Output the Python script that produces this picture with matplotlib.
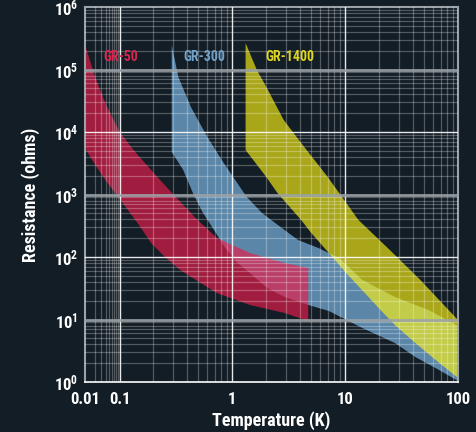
import numpy as np
import matplotlib
matplotlib.use('Agg')
import matplotlib.pyplot as plt
from matplotlib import font_manager
from matplotlib.ticker import FixedLocator, FixedFormatter, LogLocator, NullFormatter

# GR-50 band (temperature K, resistance ohms)
gr50_upper_t = [0.01, 0.0197, 0.0388, 0.0935, 0.119, 0.145, 0.233, 0.367, 0.492, 0.73, 1.43, 2.91, 4.71]
gr50_upper_r = [2.47e5, 7.6e4, 2.91e4, 1.08e4, 6670, 4285, 1644, 679, 391, 201, 116, 80, 66.7]
gr50_lower_t = [0.01, 0.0161, 0.0388, 0.102, 0.151, 0.191, 0.247, 0.345, 0.492, 0.73, 1.43, 2.91, 4.71]
gr50_lower_r = [5550, 3560, 1710, 817, 313, 167, 104, 62, 41.3, 26.5, 17.1, 12.7, 9.46]

# GR-300 band
gr300_upper_t = [0.29, 0.332, 0.429, 0.6, 0.838, 1.34, 1.83, 2.67, 3.82, 5.8, 8.82, 14.2, 27.6, 54.8, 100]
gr300_upper_r = [2.47e5, 7.6e4, 2.51e4, 8320, 3190, 912, 506, 302, 187, 139, 96.4, 42.9, 22.9, 14.2, 7.87]
gr300_lower_t = [0.29, 0.367, 0.447, 0.543, 0.662, 0.855, 1.09, 1.43, 2.04, 2.91, 4.71, 7.16, 14.2, 27.6,
                 41.9, 63.4, 100]
gr300_lower_r = [4790, 2470, 1057, 525, 302, 145, 83.2, 55.5, 31.9, 22.9, 17.1, 13.7, 7.31, 4.21,
                 2.51, 1.67, 1.04]

# GR-1400 band
gr1400_upper_t = [1.31, 1.65, 2.0, 2.85, 4.07, 7.0, 13.1, 24.9, 46.4, 100]
gr1400_upper_r = [2.65e5, 9.8e4, 5.25e4, 1.56e4, 6670, 1905, 391, 129, 42.9, 9.8]
gr1400_lower_t = [1.31, 2.0, 2.51, 4.07, 5.01, 7.16, 10.2, 15.5, 20.2, 27.6, 41.9, 63.4, 100]
gr1400_lower_r = [5150, 1905, 1057, 391, 242, 116, 55.5, 24.7, 14.7, 8.17, 4.21, 2.25, 1.16]

x_ticks = [0.01, 0.1, 1, 10, 100]
x_tick_labels = ['0.01', '0.1', '1', '10', '100']
y_ticks = [1, 10, 100, 1e3, 1e4, 1e5, 1e6]

BG = '#121d26'
K = 0.306  # the 0.01-0.1 decade is squeezed on this axis


def pick_font(names):
    for name in names:
        try:
            path = font_manager.findfont(font_manager.FontProperties(family=name, weight='bold'),
                                         fallback_to_default=False)
            if path:
                return name
        except ValueError:
            pass
    return 'DejaVu Sans'


def fwd(x):
    lx = np.log10(np.clip(np.asarray(x, dtype=float), 1e-300, None))
    return np.where(lx >= -1, lx, -1 + K * (lx + 1))


def inv(u):
    u = np.asarray(u, dtype=float)
    return np.where(u >= -1, 10.0 ** u, 10.0 ** (-1 + (u + 1) / K))


def band(ax, ut, ur, lt, lr, color, alpha):
    xs = np.concatenate([ut, lt[::-1]])
    ys = np.concatenate([ur, lr[::-1]])
    ax.fill(xs, ys, color=color, alpha=alpha, lw=0, zorder=1)


font = pick_font(['Roboto Condensed', 'Liberation Sans Narrow', 'Lato', 'Liberation Sans'])
plt.rcParams['font.family'] = [font, 'DejaVu Sans']
plt.rcParams['mathtext.fontset'] = 'custom'
plt.rcParams['mathtext.rm'] = font + ':bold'
plt.rcParams['mathtext.bf'] = font + ':bold'

fig = plt.figure(figsize=(4.76, 4.32), dpi=100, facecolor=BG)
ax = fig.add_axes([85 / 476, 50 / 432, 373 / 476, 375 / 432])
ax.set_facecolor(BG)

ax.set_xscale('function', functions=(fwd, inv))
ax.set_yscale('log')
ax.set_xlim(0.01, 100)
ax.set_ylim(1, 1e6)

band(ax, gr300_upper_t, gr300_upper_r, gr300_lower_t, gr300_lower_r, '#6c9ec6', 0.82)
band(ax, gr50_upper_t, gr50_upper_r, gr50_lower_t, gr50_lower_r, '#e61e4b', 0.68)
band(ax, gr1400_upper_t, gr1400_upper_r, gr1400_lower_t, gr1400_lower_r, '#fff514', 0.64)

ax.xaxis.set_major_locator(FixedLocator(x_ticks))
ax.xaxis.set_major_formatter(FixedFormatter(x_tick_labels))
ax.xaxis.set_minor_locator(LogLocator(base=10, subs=np.arange(2, 10), numticks=100))
ax.xaxis.set_minor_formatter(NullFormatter())
ax.yaxis.set_major_locator(FixedLocator(y_ticks))
ax.yaxis.set_major_formatter(FixedFormatter([r'$\mathbf{10^{%d}}$' % round(np.log10(v)) for v in y_ticks]))
ax.yaxis.set_minor_locator(LogLocator(base=10, subs=np.arange(2, 10), numticks=100))
ax.yaxis.set_minor_formatter(NullFormatter())

ax.set_axisbelow(False)
ax.grid(which='minor', color='white', alpha=0.27, lw=0.9)
for v in x_ticks[1:-1]:
    ax.axvline(v, color='white', alpha=0.9, lw=1.0, zorder=3)
for v in y_ticks[1:-1]:
    if round(np.log10(v)) % 2 == 0:
        ax.axhline(v, color='white', alpha=0.9, lw=1.0, zorder=3)
    else:
        ax.axhline(v, color='#9ca3a8', alpha=0.9, lw=2.0, zorder=3)

for side in ['left', 'right', 'top']:
    ax.spines[side].set_color('#9ca3a8')
    ax.spines[side].set_linewidth(1.5)
ax.spines['bottom'].set_color('white')
ax.spines['bottom'].set_linewidth(1.2)

ax.tick_params(which='both', length=0, colors='white')
ax.tick_params(axis='x', labelsize=12, pad=7)
ax.tick_params(axis='y', labelsize=12, pad=5)
for lab in ax.get_xticklabels():
    lab.set_fontweight('bold')

ax.set_xlabel('Temperature (K)', color='white', fontsize=13, fontweight='bold', labelpad=3)
ax.set_ylabel('Resistance (ohms)', color='white', fontsize=13, fontweight='bold', labelpad=10)

ax.text(0.034, 1.6e5, 'GR-50', color='#d8264f', fontsize=10, fontweight='bold', va='center', zorder=4)
ax.text(0.37, 1.6e5, 'GR-300', color='#73a2c9', fontsize=10, fontweight='bold', va='center', zorder=4)
ax.text(1.95, 1.6e5, 'GR-1400', color='#dcd522', fontsize=10, fontweight='bold', va='center', zorder=4)

fig.savefig('out.png', dpi=100, facecolor=BG)
